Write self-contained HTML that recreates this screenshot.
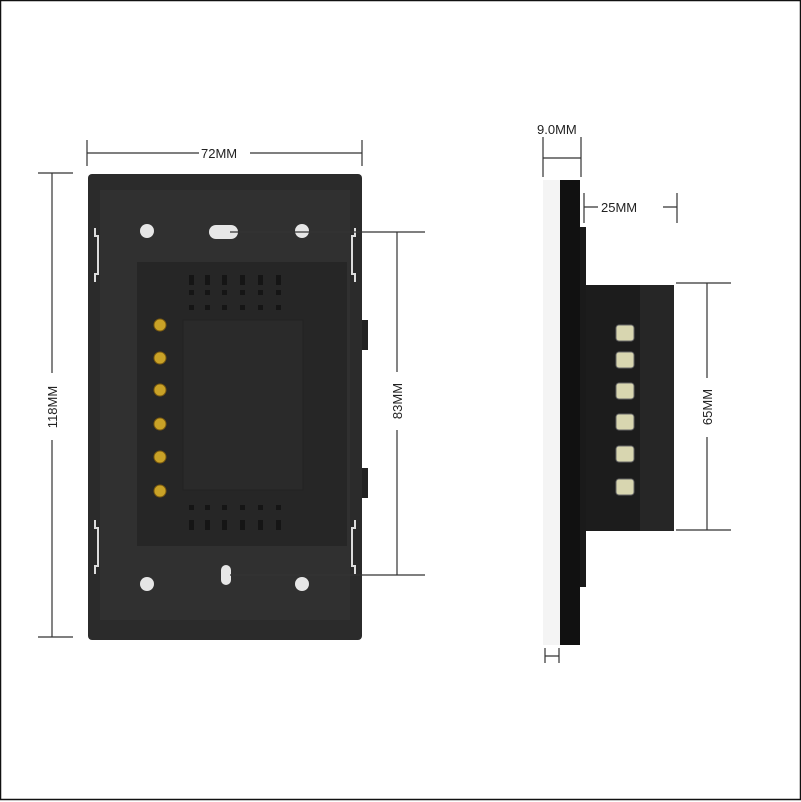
<!DOCTYPE html>
<html><head><style>
html,body{margin:0;padding:0;background:#fff}
svg{display:block}
text{font-family:"Liberation Sans",sans-serif;font-size:13px;fill:#222}
</style></head><body>
<svg width="801" height="802" viewBox="0 0 801 802">
<rect x="0.5" y="0.5" width="800" height="799" fill="#fff" stroke="#111" stroke-width="1.5"/>
<!-- main plate -->
<rect x="88" y="174" width="274" height="466" rx="4" fill="#2b2b2b"/>
<rect x="100" y="190" width="250" height="430" fill="#303030"/>
<rect x="137" y="262" width="210" height="284" fill="#262626"/>
<rect x="183" y="320" width="120" height="170" fill="#2a2a2a" stroke="#222"/>
<g fill="#151515">
<rect x="189" y="275" width="5" height="10"/><rect x="205" y="275" width="5" height="10"/><rect x="222" y="275" width="5" height="10"/><rect x="240" y="275" width="5" height="10"/><rect x="258" y="275" width="5" height="10"/><rect x="276" y="275" width="5" height="10"/>
<rect x="189" y="290" width="5" height="5"/><rect x="205" y="290" width="5" height="5"/><rect x="222" y="290" width="5" height="5"/><rect x="240" y="290" width="5" height="5"/><rect x="258" y="290" width="5" height="5"/><rect x="276" y="290" width="5" height="5"/>
<rect x="189" y="305" width="5" height="5"/><rect x="205" y="305" width="5" height="5"/><rect x="222" y="305" width="5" height="5"/><rect x="240" y="305" width="5" height="5"/><rect x="258" y="305" width="5" height="5"/><rect x="276" y="305" width="5" height="5"/>
<rect x="189" y="505" width="5" height="5"/><rect x="205" y="505" width="5" height="5"/><rect x="222" y="505" width="5" height="5"/><rect x="240" y="505" width="5" height="5"/><rect x="258" y="505" width="5" height="5"/><rect x="276" y="505" width="5" height="5"/>
<rect x="189" y="520" width="5" height="10"/><rect x="205" y="520" width="5" height="10"/><rect x="222" y="520" width="5" height="10"/><rect x="240" y="520" width="5" height="10"/><rect x="258" y="520" width="5" height="10"/><rect x="276" y="520" width="5" height="10"/>
</g>
<g fill="#c9a227" stroke="#7a5a10">
<circle cx="160" cy="325" r="6"/><circle cx="160" cy="358" r="6"/><circle cx="160" cy="390" r="6"/><circle cx="160" cy="424" r="6"/><circle cx="160" cy="457" r="6"/><circle cx="160" cy="491" r="6"/>
</g>
<g fill="#e6e6e6">
<circle cx="147" cy="231" r="7"/><circle cx="302" cy="231" r="7"/>
<rect x="209" y="225" width="29" height="14" rx="7"/>
<circle cx="147" cy="584" r="7"/><circle cx="302" cy="584" r="7"/>
<rect x="221" y="565" width="10" height="20" rx="5"/>
</g>
<g stroke="#ddd" stroke-width="2" fill="none">
<path d="M95 228 v8 h3 v38 h-3 v8"/><path d="M355 228 v8 h-3 v38 h3 v8"/>
<path d="M95 520 v8 h3 v38 h-3 v8"/><path d="M355 520 v8 h-3 v38 h3 v8"/>
</g>
<rect x="362" y="320" width="6" height="30" fill="#222"/>
<rect x="362" y="468" width="6" height="30" fill="#222"/>
<!-- dims left -->
<g stroke="#333" stroke-width="1.2" fill="none">
<path d="M87 140 v26 M362 140 v26 M87 153 h112 M250 153 h112"/>
<path d="M38 173 h35 M38 637 h35 M52 173 v200 M52 440 v197"/>
<path d="M230 232 h195 M230 575 h195 M397 232 v140 M397 430 v145"/>
<path d="M543 137 v40 M581 137 v40 M543 158 h38"/>
<path d="M584 193 v30 M677 193 v30 M584 207 h14 M663 207 h14"/>
<path d="M676 283 h55 M676 530 h55 M707 283 v95 M707 437 v93"/>
<path d="M545 648 v15 M559 648 v15 M545 656 h14"/>
</g>
<text x="201" y="158">72MM</text>
<text x="537" y="134">9.0MM</text>
<text x="601" y="212">25MM</text>
<text transform="translate(57,407) rotate(-90)" text-anchor="middle">118MM</text>
<text transform="translate(402,401) rotate(-90)" text-anchor="middle">83MM</text>
<text transform="translate(712,407) rotate(-90)" text-anchor="middle">65MM</text>
<!-- side view -->
<rect x="543" y="180" width="17" height="465" fill="#f4f4f4"/>
<rect x="560" y="180" width="20" height="465" fill="#111"/>
<rect x="580" y="227" width="6" height="360" fill="#1a1a1a"/>
<rect x="586" y="285" width="88" height="246" fill="#1c1c1c"/>
<rect x="640" y="285" width="34" height="246" fill="#262626"/>
<g fill="#d8d6b0" stroke="#666">
<rect x="616" y="325" width="18" height="16" rx="3"/><rect x="616" y="352" width="18" height="16" rx="3"/><rect x="616" y="383" width="18" height="16" rx="3"/><rect x="616" y="414" width="18" height="16" rx="3"/><rect x="616" y="446" width="18" height="16" rx="3"/><rect x="616" y="479" width="18" height="16" rx="3"/>
</g>
</svg>
</body></html>
